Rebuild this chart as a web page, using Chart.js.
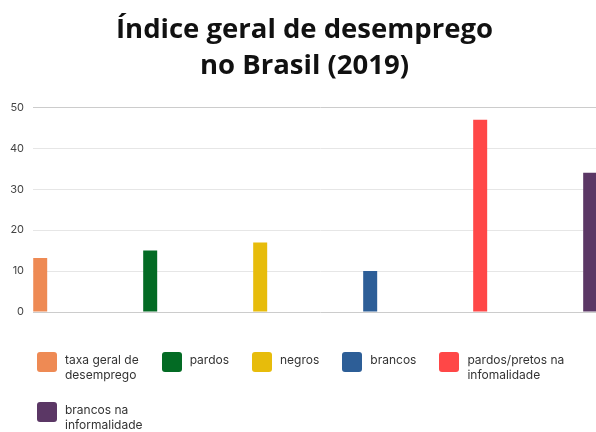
<!DOCTYPE html>
<html>
<head>
<meta charset="utf-8">
<script src="https://cdn.jsdelivr.net/npm/chart.js@4"></script>
<style>
  html, body { margin: 0; padding: 0; background: #ffffff; overflow: hidden; width: 596px; height: 432px; }
  #wrap { position: relative; width: 608px; height: 432px; }
  #legend {
    position: absolute; left: 37px; top: 352px; width: 556px;
    display: flex; flex-wrap: wrap; row-gap: 20px;
    font-family: Inter, sans-serif; font-size: 12px; line-height: 14.5px; color: #333333;
  }
  .item { display: flex; align-items: flex-start; margin-right: 23px; }
  .box { width: 20px; height: 20px; border-radius: 3px; margin-right: 8px; flex: none; }
  .txt { white-space: nowrap; padding-top: 1px; }
</style>
</head>
<body>
<div id="wrap">
  <canvas id="c" width="608" height="432"></canvas>
  <div id="legend"></div>
</div>
<script>
const titleLines = ['Índice geral de desemprego', 'no Brasil (2019)'];
const categories = [
  ['taxa geral de', 'desemprego'],
  ['pardos'],
  ['negros'],
  ['brancos'],
  ['pardos/pretos na', 'infomalidade'],
  ['brancos na', 'informalidade']
];
const values = [13.2, 15, 17, 10, 47, 34];
const colors = ['#EE8A54', '#036B24', '#E7BC0B', '#2D5E97', '#FF4747', '#5B3765'];
const yTickValues = [0, 10, 20, 30, 40, 50];

const datasets = categories.map((label, i) => ({
  label: label.join(' '),
  data: [{ x: i, y: values[i] }],
  backgroundColor: colors[i],
  borderWidth: 0,
  grouped: false,
  maxBarThickness: 14
}));

const htmlLegend = {
  id: 'htmlLegend',
  afterUpdate(chart) {
    const host = document.getElementById('legend');
    host.innerHTML = '';
    chart.data.datasets.forEach((ds, i) => {
      const item = document.createElement('div');
      item.className = 'item';
      const box = document.createElement('span');
      box.className = 'box';
      box.style.background = ds.backgroundColor;
      const txt = document.createElement('span');
      txt.className = 'txt';
      categories[i].forEach((line, k) => {
        if (k) txt.appendChild(document.createElement('br'));
        txt.appendChild(document.createTextNode(line));
      });
      item.appendChild(box);
      item.appendChild(txt);
      host.appendChild(item);
    });
  }
};

new Chart(document.getElementById('c'), {
  type: 'bar',
  data: { datasets: datasets },
  plugins: [htmlLegend],
  options: {
    responsive: false,
    animation: false,
    devicePixelRatio: 1,
    layout: { padding: { left: 1, right: 0, top: 0, bottom: 120 } },
    scales: {
      x: {
        type: 'linear',
        offset: false,
        min: -0.065,
        max: 5.162,
        display: false
      },
      y: {
        min: yTickValues[0],
        max: yTickValues[yTickValues.length - 1],
        afterBuildTicks: (s) => { s.ticks = yTickValues.map(v => ({ value: v })); },
        border: { display: false },
        grid: {
          drawTicks: false,
          color: (ctx) => (ctx.tick && (ctx.tick.value === 0 || ctx.tick.value === 50)) ? '#cccccc' : '#e6e6e6',
          lineWidth: 1
        },
        ticks: {
          padding: 9,
          color: '#444444',
          font: { family: 'Inter', size: 11 }
        }
      }
    },
    plugins: {
      title: {
        display: true,
        text: titleLines,
        color: '#111111',
        font: { family: 'Open Sans', size: 27.5, weight: 'bold', lineHeight: 1.28 },
        padding: { top: 13, bottom: 24 }
      },
      legend: { display: false },
      tooltip: { enabled: false }
    }
  }
});
</script>
</body>
</html>
